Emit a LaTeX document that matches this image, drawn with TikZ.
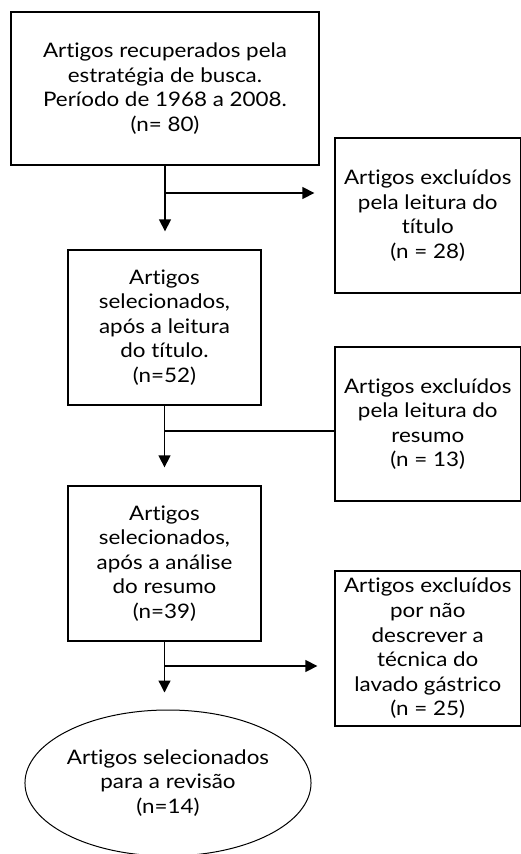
\documentclass[tikz,border=0pt]{standalone}
\usepackage{fontspec}
\setmainfont{Lato}[FakeStretch=1.12,Ligatures={NoCommon,NoContextual},Contextuals=NoAlternate]
\usetikzlibrary{arrows.meta,shapes.geometric}
\begin{document}
\begin{tikzpicture}[x=1pt,y=-1pt,
  box/.style={draw,line width=1.3pt,inner sep=0pt,align=center,font=\fontsize{20}{24.6}\selectfont},
  oval/.style={draw,ellipse,line width=1pt,inner sep=0pt,align=center,font=\fontsize{20}{24.6}\selectfont},
  arr/.style={line width=1.3pt,-{Triangle[length=12pt,width=12pt]}},
  ln/.style={line width=1.3pt}]
\useasboundingbox (0,0) rectangle (521,854);
\node[box,minimum width=308pt,minimum height=153pt] (b1) at (165,88.5)
  {Artigos recuperados pela\\estratégia de busca.\\Período de 1968 a 2008.\\(n= 80)};
\node[box,minimum width=185.5pt,minimum height=155pt] (b2) at (427.75,215.5)
  {Artigos excluídos\\pela leitura do\\título\\(n = 28)};
\node[box,minimum width=193pt,minimum height=155pt] (b3) at (164.5,327.5)
  {Artigos\\selecionados,\\após a leitura\\do título.\\(n=52)};
\node[box,minimum width=185.5pt,minimum height=154pt] (b4) at (427.75,424)
  {Artigos excluídos\\pela leitura do\\resumo\\(n = 13)};
\node[box,minimum width=193pt,minimum height=155pt] (b5) at (164.5,563.5)
  {Artigos\\selecionados,\\após a análise\\do resumo\\(n=39)};
\node[box,minimum width=185.5pt,minimum height=155pt] (b6) at (427.75,648.5)
  {Artigos excluídos\\por não\\descrever a\\técnica do\\lavado gástrico\\(n = 25)};
\node[oval,minimum width=284pt,minimum height=146pt] (e) at (168,783)
  {Artigos selecionados\\para a revisão\\(n=14)};
\coordinate (j1) at (165,193);
\coordinate (j2) at (165,431);
\coordinate (j3) at (165,666);
\draw[arr,shorten >=18pt] (b1.south) -- (b1.south |- b3.north);
\draw[arr,shorten >=20pt] (j1) -- (j1 -| b2.west);
\draw[arr,shorten >=18pt] (b3.south) -- (b3.south |- b5.north);
\draw[ln] (j2) -- (j2 -| b4.west);
\draw[arr,shorten >=17pt] (b5.south) -- (b5.south |- e.north);
\draw[arr,shorten >=17pt] (j3) -- (j3 -| b6.west);
\end{tikzpicture}
\end{document}
